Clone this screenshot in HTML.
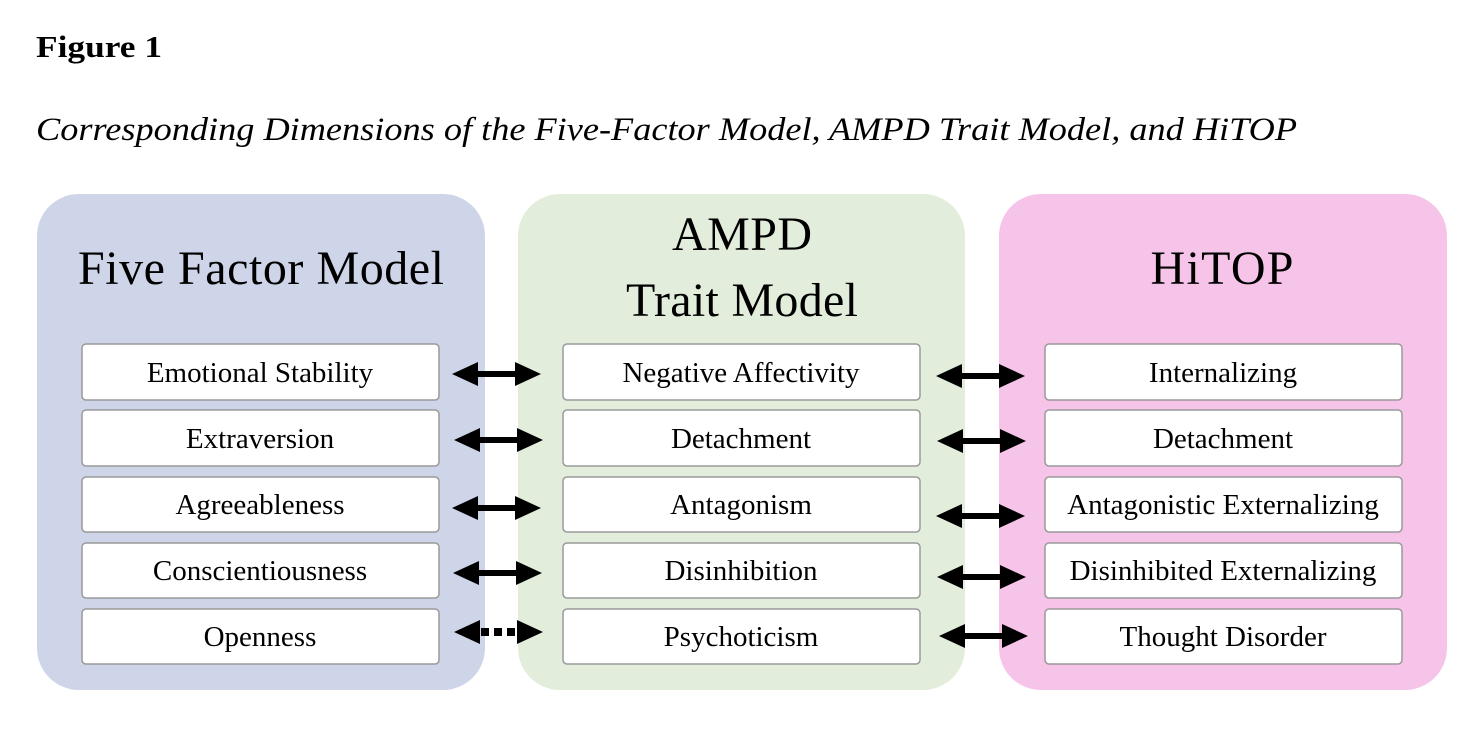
<!DOCTYPE html>
<html><head><meta charset="utf-8"><style>
html,body{margin:0;padding:0;background:#fff;width:1478px;height:744px;overflow:hidden}
</style></head><body>
<svg width="1478" height="744" viewBox="0 0 1478 744" xmlns="http://www.w3.org/2000/svg" font-family="'Liberation Serif', serif">
<defs>
<g id="arr"><polygon points="0,0 26,-12 26,-3 63,-3 63,-12 89,0 63,12 63,3 26,3 26,12" fill="#000"/></g>
</defs>
<text x="36" y="57" font-size="31" font-weight="bold" textLength="126" lengthAdjust="spacingAndGlyphs">Figure 1</text>
<text x="36" y="140" font-size="33" font-style="italic" textLength="1261" lengthAdjust="spacingAndGlyphs">Corresponding Dimensions of the Five-Factor Model, AMPD Trait Model, and HiTOP</text>
<rect x="37" y="194" width="448" height="496" rx="42" fill="#cfd5e8"/>
<rect x="518" y="194" width="447" height="496" rx="42" fill="#e2eedb"/>
<rect x="999" y="194" width="448" height="496" rx="42" fill="#f7c4e9"/>
<g font-size="48" text-anchor="middle" lengthAdjust="spacingAndGlyphs">
<text x="261" y="284" textLength="366">Five Factor Model</text>
<text x="742" y="250" textLength="140">AMPD</text>
<text x="742" y="316" textLength="232">Trait Model</text>
<text x="1222" y="284" textLength="143">HiTOP</text>
</g>
<g fill="#fff" stroke="#9a9a9a" stroke-width="1.5">
<rect x="82" y="344" width="357" height="56" rx="4"/><rect x="82" y="410" width="357" height="56" rx="4"/><rect x="82" y="477" width="357" height="55" rx="4"/><rect x="82" y="543" width="357" height="55" rx="4"/><rect x="82" y="609" width="357" height="55" rx="4"/>
<rect x="563" y="344" width="357" height="56" rx="4"/><rect x="563" y="410" width="357" height="56" rx="4"/><rect x="563" y="477" width="357" height="55" rx="4"/><rect x="563" y="543" width="357" height="55" rx="4"/><rect x="563" y="609" width="357" height="55" rx="4"/>
<rect x="1045" y="344" width="357" height="56" rx="4"/><rect x="1045" y="410" width="357" height="56" rx="4"/><rect x="1045" y="477" width="357" height="55" rx="4"/><rect x="1045" y="543" width="357" height="55" rx="4"/><rect x="1045" y="609" width="357" height="55" rx="4"/>
</g>
<g font-size="29" text-anchor="middle">
<text x="260" y="382">Emotional Stability</text>
<text x="260" y="448">Extraversion</text>
<text x="260" y="514">Agreeableness</text>
<text x="260" y="580">Conscientiousness</text>
<text x="260" y="646">Openness</text>
<text x="741" y="382">Negative Affectivity</text>
<text x="741" y="448">Detachment</text>
<text x="741" y="514">Antagonism</text>
<text x="741" y="580">Disinhibition</text>
<text x="741" y="646">Psychoticism</text>
<text x="1223" y="382">Internalizing</text>
<text x="1223" y="448">Detachment</text>
<text x="1223" y="514">Antagonistic Externalizing</text>
<text x="1223" y="580">Disinhibited Externalizing</text>
<text x="1223" y="646">Thought Disorder</text>
</g>
<use href="#arr" x="452" y="374"/>
<use href="#arr" x="454" y="440"/>
<use href="#arr" x="452" y="508"/>
<use href="#arr" x="453" y="573"/>
<polygon points="454,632 480,620 480,644" fill="#000"/>
<polygon points="543,632 517,620 517,644" fill="#000"/>
<rect x="481" y="628" width="8" height="8" fill="#000"/>
<rect x="494" y="628" width="8" height="8" fill="#000"/>
<rect x="507" y="628" width="8" height="8" fill="#000"/>
<use href="#arr" x="936" y="376"/>
<use href="#arr" x="937" y="441"/>
<use href="#arr" x="936" y="516"/>
<use href="#arr" x="937" y="577"/>
<use href="#arr" x="939" y="636"/>
</svg>
</body></html>
